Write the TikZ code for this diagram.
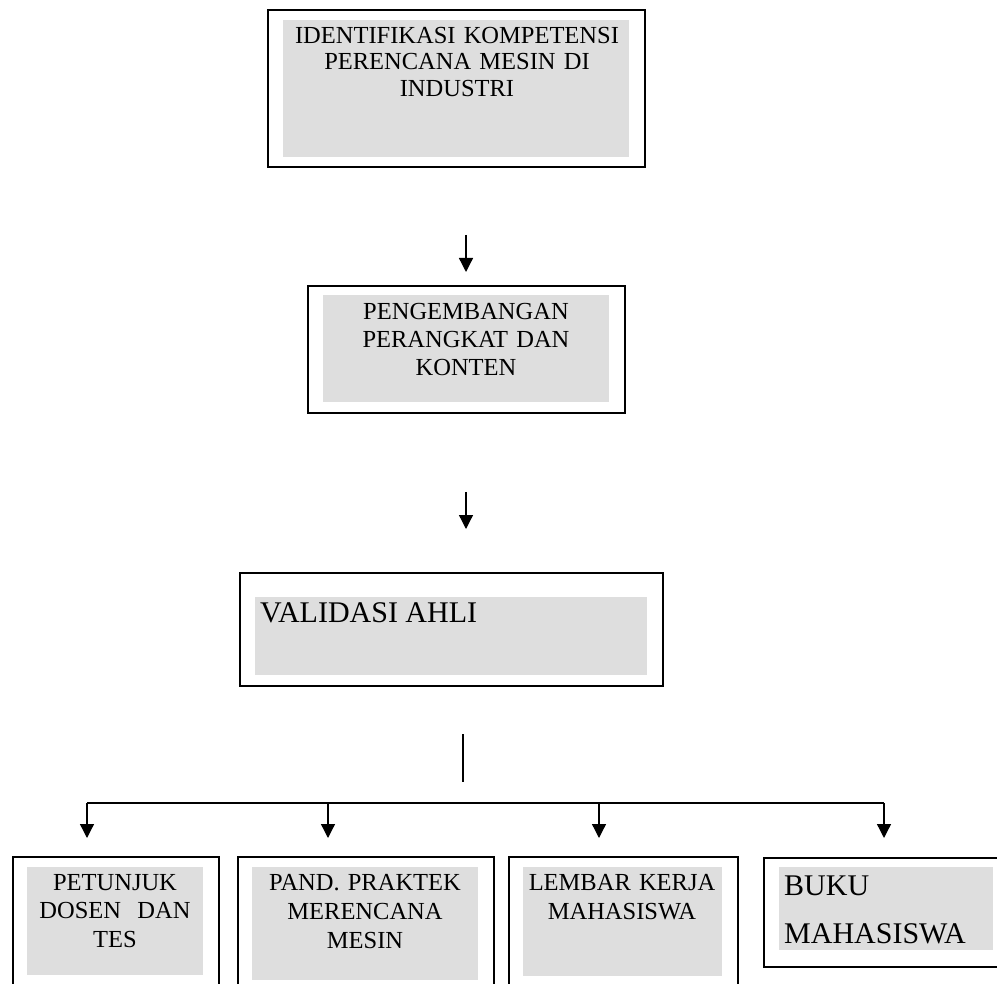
\documentclass[tikz,border=0pt]{standalone}
\usepackage{fontspec}
\setmainfont{Liberation Serif}
\usetikzlibrary{arrows.meta}
\definecolor{panel}{RGB}{222,222,222}
\begin{document}
\begin{tikzpicture}[x=1pt,y=-1pt,
  outerbox/.style={draw, line width=1.6pt, rectangle, inner sep=0pt, anchor=north west},
  panelbox/.style={fill=panel, draw=none, rectangle, inner sep=0pt, anchor=north west},
  boxtext/.style={font=\fontsize{24.5}{27.5}\selectfont, align=center, inner sep=0pt, anchor=base},
  bigtext/.style={font=\fontsize{30}{48}\selectfont, align=left, inner sep=0pt, anchor=base west},
  arr/.style={line width=1.3pt, -{Triangle[width=14pt,length=14pt]}},
  link/.style={line width=1.3pt}]
\useasboundingbox (0,0) rectangle (997,984);

% top: competence identification
\node[outerbox, minimum width=377pt, minimum height=157pt] (b1) at (267,9) {};
\node[panelbox, minimum width=346pt, minimum height=137pt] (p1) at (283,20) {};
\node[boxtext, text width=340pt, font=\fontsize{24.5}{26.5}\selectfont] (t1) at (457,43.5)
  {IDENTIFIKASI KOMPETENSI\\PERENCANA MESIN DI\\INDUSTRI};

% development of tools and content
\node[outerbox, minimum width=317pt, minimum height=127pt] (b2) at (307,285) {};
\node[panelbox, minimum width=286pt, minimum height=107pt] (p2) at (323,295) {};
\node[boxtext, text width=280pt, font=\fontsize{24.5}{28}\selectfont] (t2) at (466,320)
  {PENGEMBANGAN\\PERANGKAT DAN\\KONTEN};

% expert validation
\node[outerbox, minimum width=423pt, minimum height=113pt] (b3) at (239,572) {};
\node[panelbox, minimum width=392pt, minimum height=78pt] (p3) at (255,597) {};
\node[bigtext] (t3) at (260,622) {VALIDASI AHLI};

% outputs
\node[outerbox, minimum width=206pt, minimum height=150pt] (b4) at (12,856) {};
\node[panelbox, minimum width=176pt, minimum height=108pt] (p4) at (27,867) {};
\node[boxtext, text width=176pt, font=\fontsize{24.5}{28.5}\selectfont] (t4) at (115,890)
  {PETUNJUK\\DOSEN\ \ DAN\\TES};

\node[outerbox, minimum width=256pt, minimum height=150pt] (b5) at (237,856) {};
\node[panelbox, minimum width=226pt, minimum height=113pt] (p5) at (252,867) {};
\node[boxtext, text width=226pt, font=\fontsize{24.5}{29}\selectfont] (t5) at (365,890)
  {PAND. PRAKTEK\\MERENCANA\\MESIN};

\node[outerbox, minimum width=229pt, minimum height=150pt] (b6) at (508,856) {};
\node[panelbox, minimum width=199pt, minimum height=109pt] (p6) at (523,867) {};
\node[boxtext, text width=199pt, font=\fontsize{24.5}{29}\selectfont] (t6) at (622,890)
  {LEMBAR KERJA\\MAHASISWA};

\node[outerbox, minimum width=245pt, minimum height=109pt] (b7) at (763,857) {};
\node[panelbox, minimum width=214pt, minimum height=83pt] (p7) at (779,867) {};
\node[bigtext, text width=210pt] (t7) at (784,895) {BUKU\\MAHASISWA};

% arrows between stages
\coordinate (a1s) at (466,235);
\coordinate (a1e) at (466,272);
\coordinate (a2s) at (466,492);
\coordinate (a2e) at (466,529);
\draw[arr] (a1s) -- (a1e);
\draw[arr] (a2s) -- (a2e);

% branching to the outputs
\coordinate (vs) at (463,734);
\coordinate (ve) at (463,782);
\draw[line width=1.8pt] (vs) -- (ve);

\coordinate (h1) at (87,803);
\coordinate (h2) at (328,803);
\coordinate (h3) at (599,803);
\coordinate (h4) at (884,803);
\coordinate (e1) at (87,838);
\coordinate (e2) at (328,838);
\coordinate (e3) at (599,838);
\coordinate (e4) at (884,838);
\draw[link] (h1) -- (h4);
\draw[arr] (h1) -- (e1);
\draw[arr] (h2) -- (e2);
\draw[arr] (h3) -- (e3);
\draw[arr] (h4) -- (e4);
\end{tikzpicture}
\end{document}
